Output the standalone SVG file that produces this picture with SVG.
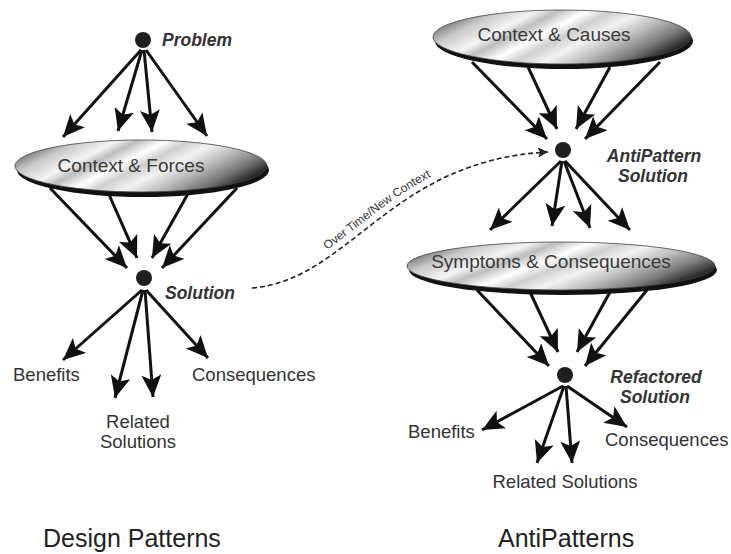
<svg xmlns="http://www.w3.org/2000/svg" width="731" height="554" viewBox="0 0 731 554">
<defs>
<linearGradient id="lens" x1="0" y1="0.3" x2="1" y2="0.7">
<stop offset="0" stop-color="#6a6a6a"/>
<stop offset="0.12" stop-color="#c8c8c8"/>
<stop offset="0.25" stop-color="#f4f4f4"/>
<stop offset="0.32" stop-color="#bdbdbd"/>
<stop offset="0.42" stop-color="#ffffff"/>
<stop offset="0.5" stop-color="#cfcfcf"/>
<stop offset="0.6" stop-color="#f2f2f2"/>
<stop offset="0.72" stop-color="#bcbcbc"/>
<stop offset="0.85" stop-color="#777"/>
<stop offset="0.95" stop-color="#2a2a2a"/>
<stop offset="1" stop-color="#111"/>
</linearGradient>
<marker id="ah" markerUnits="userSpaceOnUse" markerWidth="24" markerHeight="22" refX="22" refY="10" orient="auto">
<path d="M0,0 L22,10 L0,20 L5,10 z" fill="#111"/>
</marker>
<marker id="ahs" markerUnits="userSpaceOnUse" markerWidth="12" markerHeight="10" refX="10" refY="5" orient="auto">
<path d="M0,0 L10,5 L0,10 L2,5 z" fill="#222"/>
</marker>
</defs>
<style>
.arr{stroke:#111;stroke-width:3;fill:none;marker-end:url(#ah)}
.dot{fill:#1e1e1e}
.lensfill{fill:url(#lens);stroke:#444;stroke-width:0.8}
.shadow{fill:#111}
.lt{font-family:"Liberation Sans",Arial,sans-serif;font-size:19px;fill:#3a3a3a;text-anchor:middle}
.lbl{font-family:"Liberation Sans",Arial,sans-serif;font-size:18.5px;fill:#333}
.bi{font-family:"Liberation Sans",Arial,sans-serif;font-size:17.5px;font-weight:bold;font-style:italic;fill:#333}
.title{font-family:"Liberation Sans",Arial,sans-serif;font-size:25px;fill:#222}
.small{font-family:"Liberation Sans",Arial,sans-serif;font-size:12px;fill:#333}
</style>
<rect width="731" height="554" fill="#fff"/>

<g id="connectors">
<line class="arr" x1="141" y1="50" x2="63" y2="137"/>
<line class="arr" x1="142" y1="50" x2="118" y2="131"/>
<line class="arr" x1="144" y1="50" x2="152" y2="132"/>
<line class="arr" x1="146" y1="50" x2="207" y2="136"/>

<line class="arr" x1="50" y1="188" x2="127" y2="268"/>
<line class="arr" x1="107" y1="190" x2="137" y2="258"/>
<line class="arr" x1="190" y1="190" x2="152" y2="258"/>
<line class="arr" x1="237" y1="188" x2="162" y2="268"/>

<line class="arr" x1="142" y1="290" x2="63" y2="360"/>
<line class="arr" x1="143" y1="290" x2="115" y2="398"/>
<line class="arr" x1="145" y1="290" x2="153" y2="397"/>
<line class="arr" x1="146" y1="290" x2="208" y2="358"/>

<line class="arr" x1="472" y1="62" x2="547" y2="139"/>
<line class="arr" x1="528" y1="67" x2="557" y2="129"/>
<line class="arr" x1="610" y1="67" x2="576" y2="129"/>
<line class="arr" x1="660" y1="62" x2="585" y2="139"/>

<line class="arr" x1="561" y1="161" x2="490" y2="230"/>
<line class="arr" x1="562" y1="161" x2="552" y2="226"/>
<line class="arr" x1="564" y1="161" x2="590" y2="228"/>
<line class="arr" x1="565" y1="161" x2="630" y2="230"/>

<line class="arr" x1="477" y1="290" x2="549" y2="366"/>
<line class="arr" x1="530" y1="292" x2="558" y2="352"/>
<line class="arr" x1="610" y1="292" x2="577" y2="352"/>
<line class="arr" x1="647" y1="290" x2="585" y2="366"/>

<line class="arr" x1="563" y1="386" x2="482" y2="430"/>
<line class="arr" x1="564" y1="386" x2="537" y2="463"/>
<line class="arr" x1="566" y1="386" x2="572" y2="463"/>
<line class="arr" x1="567" y1="386" x2="627" y2="427"/>

<path d="M252,288 C350,280 390,160 548,152" fill="none" stroke="#222" stroke-width="1.6" stroke-dasharray="5,3" marker-end="url(#ahs)"/>
<path id="lblpath" d="M249,282 C347,274 386,154 545,146" fill="none" stroke="none"/>
<text class="small"><textPath href="#lblpath" startOffset="45%" text-anchor="middle">Over Time/New Context</textPath></text>
</g>

<g id="problem">
<circle class="dot" cx="143" cy="40" r="8"/>
<text class="bi" x="162" y="46">Problem</text>
</g>

<g id="context-forces">
<ellipse class="shadow" cx="143" cy="170" rx="126" ry="27"/>
<ellipse class="lensfill" cx="141" cy="166" rx="126" ry="26"/>
<text class="lt" x="131" y="172">Context &amp; Forces</text>
</g>

<g id="solution">
<circle class="dot" cx="144" cy="278" r="8"/>
<text class="bi" x="165" y="299">Solution</text>
</g>

<g id="benefits-left"><text class="lbl" x="13" y="381">Benefits</text></g>
<g id="related-left">
<text class="lbl" x="138" y="428" text-anchor="middle">Related</text>
<text class="lbl" x="138" y="448" text-anchor="middle">Solutions</text>
</g>
<g id="consequences-left"><text class="lbl" x="192" y="381">Consequences</text></g>

<g id="context-causes">
<ellipse class="shadow" cx="564" cy="41" rx="129" ry="28"/>
<ellipse class="lensfill" cx="562" cy="37" rx="129" ry="27"/>
<text class="lt" x="554" y="41">Context &amp; Causes</text>
</g>

<g id="antipattern-solution">
<circle class="dot" cx="563" cy="150" r="8"/>
<text class="bi" x="654" y="162" text-anchor="middle">AntiPattern</text>
<text class="bi" x="653" y="182" text-anchor="middle">Solution</text>
</g>

<g id="symptoms-consequences">
<ellipse class="shadow" cx="563" cy="270" rx="154" ry="25"/>
<ellipse class="lensfill" cx="561" cy="266" rx="154" ry="24"/>
<text class="lt" x="551" y="268">Symptoms &amp; Consequences</text>
</g>

<g id="refactored-solution">
<circle class="dot" cx="565" cy="375" r="8"/>
<text class="bi" x="656" y="383" text-anchor="middle">Refactored</text>
<text class="bi" x="655" y="403" text-anchor="middle">Solution</text>
</g>

<g id="benefits-right"><text class="lbl" x="408" y="438">Benefits</text></g>
<g id="related-right"><text class="lbl" x="565" y="488" text-anchor="middle">Related Solutions</text></g>
<g id="consequences-right"><text class="lbl" x="605" y="446">Consequences</text></g>

<g id="title-design"><text class="title" x="43" y="547">Design Patterns</text></g>
<g id="title-anti"><text class="title" x="498" y="547">AntiPatterns</text></g>
</svg>
